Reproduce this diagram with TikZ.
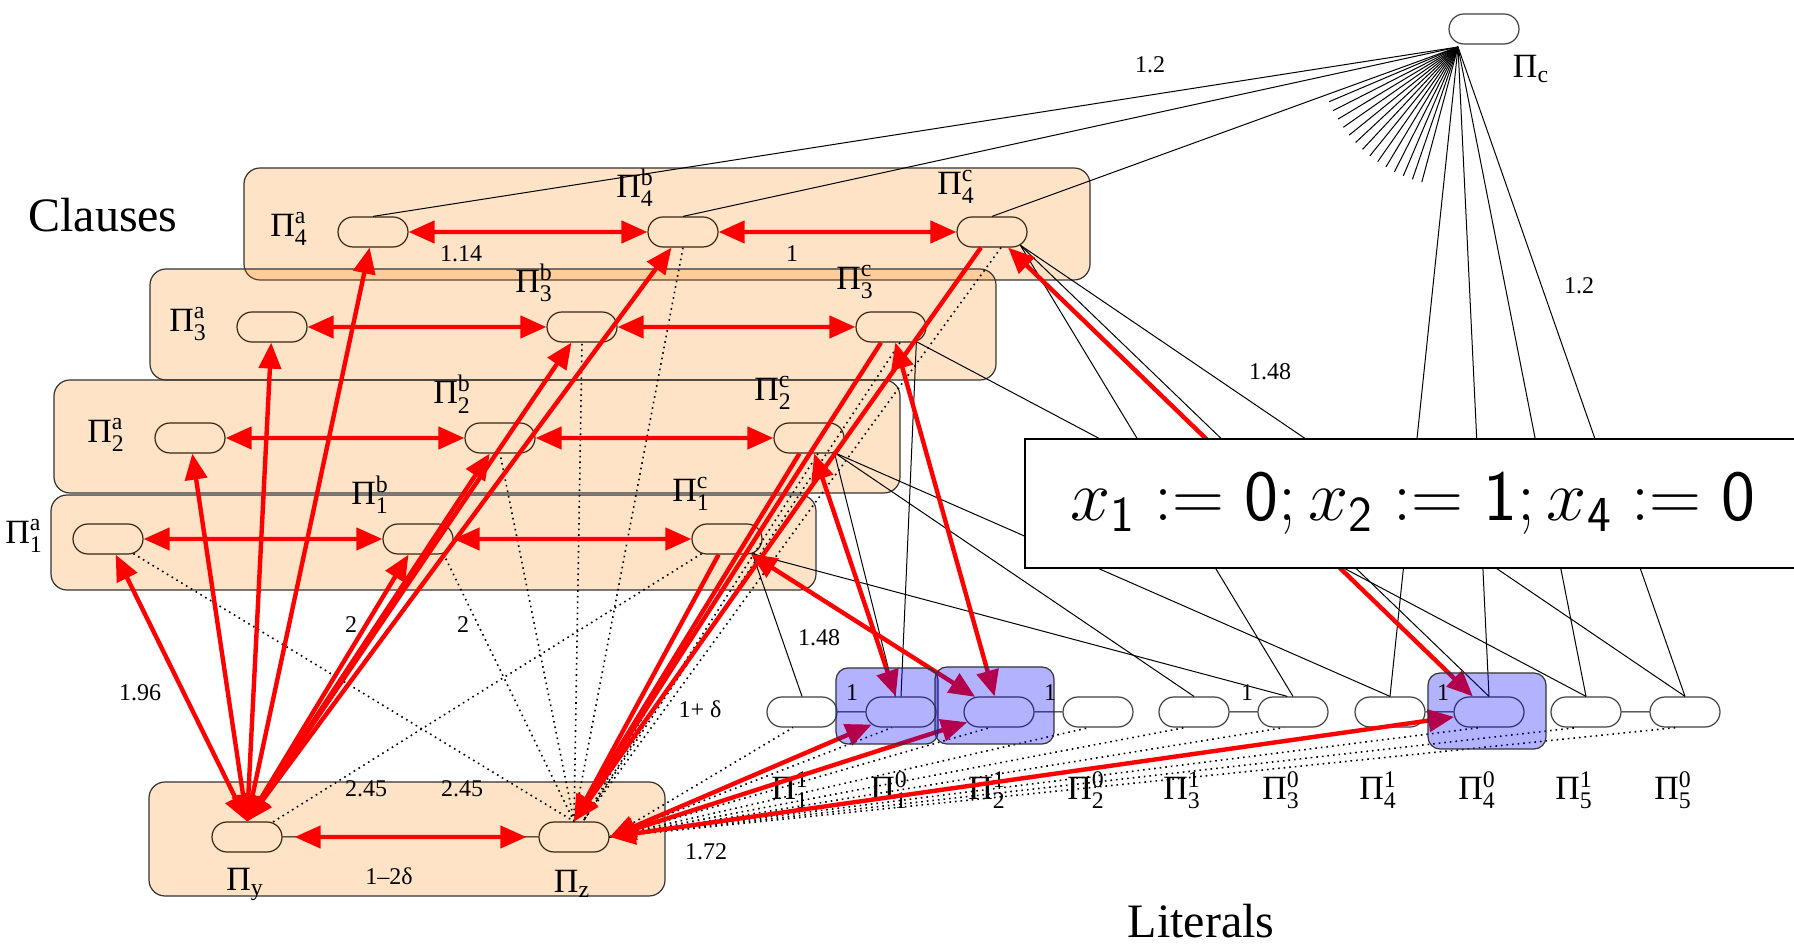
\RequirePackage{fix-cm}
\documentclass[tikz,border=0pt]{standalone}
\usepackage{amsmath}
\usepackage{fontspec}
\setmainfont{Liberation Serif}
\usetikzlibrary{arrows.meta,shapes.misc}

\newcommand{\pin}[2]{Π$^{\text{#1}}_{\text{#2}}$}

\tikzset{
  lit/.style={rounded rectangle, draw=black!75, line width=0.6pt,
    minimum width=35pt, minimum height=15pt, inner sep=0pt, fill=white},
  cls/.style={lit, fill=none, draw=black!70!brown},
  grp/.style={draw=black!80, line width=0.6pt, rounded corners=8pt,
    fill=orange, fill opacity=0.22},
  sel/.style={draw=black!80, line width=0.6pt, rounded corners=6pt,
    fill=blue, fill opacity=0.3},
  wire/.style={black, line width=0.5pt},
  dots/.style={black, dotted, line width=0.8pt},
  redarr/.style={red, line width=2.2pt,
    {Triangle[length=13pt,width=11pt]}-{Triangle[length=13pt,width=11pt]}},
  redto/.style={red, line width=2.2pt, -{Triangle[length=13pt,width=11pt]}},
  wt/.style={font=\fontsize{12}{12}\selectfont, inner sep=1pt},
  pil/.style={font=\fontsize{17}{17}\selectfont, inner sep=0pt},
  big/.style={font=\fontsize{24}{24}\selectfont}
}

\begin{document}
\begin{tikzpicture}[x=0.5pt,y=-0.5pt]
\useasboundingbox (0,0) rectangle (1794,945);
% clause groups
\draw[grp] (244,168) rectangle (1090,280);
\draw[grp] (150,269) rectangle (996,380);
\draw[grp] (54,380) rectangle (900,493);
\draw[grp] (51,495) rectangle (816,590);
\draw[grp] (149,782) rectangle (665,896);

% clause nodes
\foreach \row/\x/\y in {4/373/232,3/272/327,2/190/438,1/108/539}{
  \node[cls] (c\row a) at (\x,\y) {};
  \node[cls] (c\row b) at (\x+310,\y) {};
  \node[cls] (c\row c) at (\x+619,\y) {};
  \node[pil] (n\row a) at (\x-84,\y-3) {\pin{a}{\row}};
  \node[pil] (n\row b) at (\x+262,\y-44) {\pin{b}{\row}};
  \node[pil] (n\row c) at (\x+583,\y-45) {\pin{c}{\row}};
}
\node[cls] (cy) at (247,837) {};
\node[cls] (cz) at (574,837) {};
\node[lit] (pc) at (1484,29) {};
\coordinate (hub) at (1458,47);

% literals
\foreach \i/\x in {1/802,2/999,3/1194,4/1390,5/1586}{
  \node[lit] (l\i1) at (\x,712) {};
  \node[lit] (l\i0) at (\x+99,712) {};
  \draw[wire] (l\i1) -- (l\i0);
  \node[pil] (m\i1) at (\x-12,790) {\pin{1}{\i}};
  \node[pil] (m\i0) at (\x+87,790) {\pin{0}{\i}};
}

% thin edges
\foreach \t in {c4a,c4b,c4c,l41,l40,l51,l50} \draw[wire] (hub) -- (\t.north);
\foreach \a in {105,109,...,157} \draw[wire] (hub) -- ++(\a:140);
\draw[wire] (c4c.-25) -- (l30.north);
\draw[wire] (c4c.-25) -- (l40.north);
\draw[wire] (c4c.-25) -- (l50.north);
\draw[wire] (c3c.-30) -- (l51.north);
\draw[wire] (c3c.-30) -- (l10.north);
\draw[wire] (c2c.-30) -- (l10.110);
\draw[wire] (c2c.-30) -- (l31.north);
\draw[wire] (c2c.-30) -- (l41.north);
\draw[wire] (c1c.-30) -- (l11.north);
\draw[wire] (c1c.-30) -- (l30.110);

% dotted edges
\foreach \t in {c2b,c3b,c4b} \draw[dots] (cz.north) -- (\t.south);
\draw[dots] (c1a.-30) -- (cz.north);
\draw[dots] (c1b.-30) -- (cz.north);
\draw[dots] (c1c.-150) -- (cy.30);
\foreach \t in {c1c,c2c,c3c,c4c} \draw[dots] (\t.-60) -- (cz.60);
\foreach \t in {l11,l10,l21,l20,l31,l30,l41,l40,l51,l50} \draw[dots] (cz.east) -- (\t.-120);

% red edges
\foreach \row in {1,...,4}{
  \draw[redarr] (c\row a) -- (c\row b);
  \draw[redarr] (c\row b) -- (c\row c);
}
\foreach \t in {c1a,c2a,c3a,c4a,c1b,c2b,c3b,c4b} \draw[redarr] (cy.north) -- (\t);
\foreach \t in {c1c,c2c,c3c,c4c} \draw[redto] (\t) -- (cz.north);
\draw[wire] (cy) -- (cz);
\draw[redarr, shorten <=6pt, shorten >=6pt] (cy) -- (cz);
\foreach \t in {l10,l21,l40} \draw[redarr] (cz.east) -- (\t);
\draw[redarr] (c2c) -- (l10);
\draw[redarr] (c3c) -- (l21);
\draw[redarr] (c1c) -- (l21);
\draw[redarr] (c4c) -- (l40);

% chosen literals
\draw[sel] (836,668) rectangle (938,744);
\draw[sel] (935,667) rectangle (1054,744);
\draw[sel] (1428,673) rectangle (1546,749);

% assignment
\node[draw=black, line width=0.8pt, fill=white, anchor=north west,
  minimum width=388pt, minimum height=64.5pt,
  font=\fontsize{36}{36}\selectfont] (asg) at (1024,438)
  {$x_{\mathsf{1}}\mathrel{:=}\mathsf{0}; x_{\mathsf{2}}\mathrel{:=}\mathsf{1}; x_{\mathsf{4}}\mathrel{:=}\mathsf{0}$\hspace{12pt}};

% labels
\node[big] (clauses) at (103,215) {Clauses};
\node[big] (literals) at (1201,921) {Literals};
\node[pil] (npc) at (1531,69) {Π$_{\text{c}}$};
\node[pil] (ny) at (245,884) {Π$_{\text{y}}$};
\node[pil] (nz) at (572,884) {Π$_{\text{z}}$};
\foreach \x/\y/\t [count=\n] in {1150/65/1.2, 461/254/1.14, 792/254/1,
  1579/286/1.2, 1270/372/1.48, 819/638/1.48, 140/693/1.96, 351/625/2,
  463/625/2, 700/709/1+ δ, 366/789/2.45, 462/789/2.45, 389/876/1–2δ,
  706/852/1.72, 1247/693/1, 852/693/1, 1050/693/1, 1443/693/1}
  \node[wt] (w\n) at (\x,\y) {\t};
\end{tikzpicture}
\end{document}
